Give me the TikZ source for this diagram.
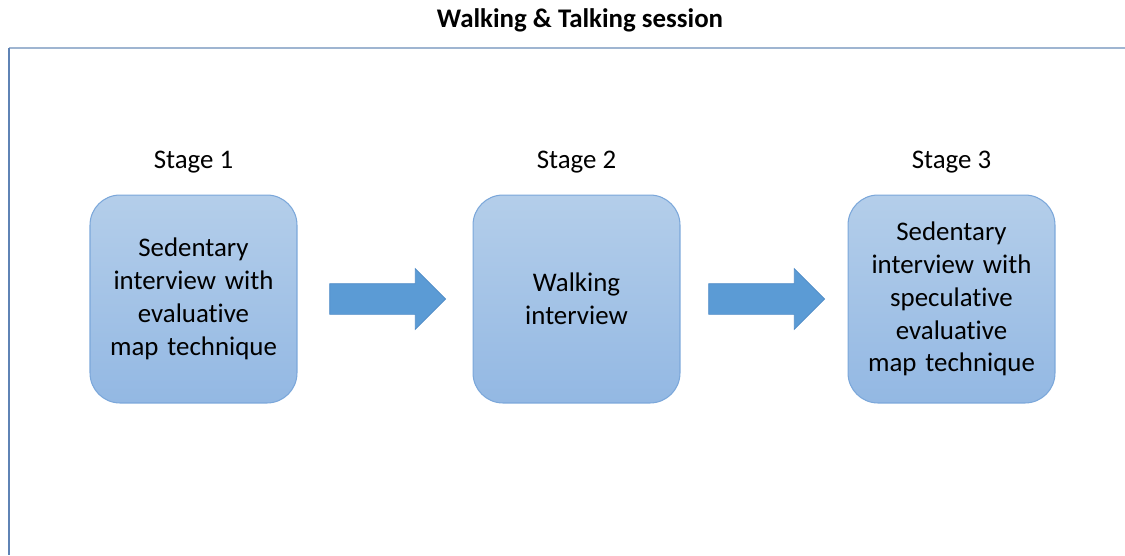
\documentclass[tikz,border=0pt]{standalone}
\usepackage{fontspec}
\setmainfont{Carlito}[Ligatures=NoCommon]
\usetikzlibrary{positioning,shapes.arrows,calc}
\definecolor{boxtop}{HTML}{B4CEEA}
\definecolor{boxbot}{HTML}{93B8E3}
\definecolor{boxline}{HTML}{7BA7DA}
\definecolor{arrfill}{HTML}{5B9BD5}
\definecolor{arrline}{HTML}{4F8BC6}
\definecolor{frametop}{HTML}{9FB5D1}
\definecolor{frameleft}{HTML}{5F83B5}
\tikzset{
  stagebox/.style={draw=boxline, line width=0.6pt, rounded corners=0.6cm, top color=boxtop, bottom color=boxbot,
    minimum width=4.14cm, minimum height=4.16cm, align=center, text width=3.6cm,
    font=\fontsize{15.3}{18.7}\selectfont},
  stagename/.style={inner sep=0pt, font=\fontsize{15.3}{18.7}\selectfont},
  blockarrow/.style={single arrow, draw=arrline, fill=arrfill, line width=0.4pt, inner sep=0pt,
    text height=0.6cm, text depth=0pt, minimum height=2.32cm, single arrow head extend=0.3cm, xshift=-0.1cm}
}
\begin{document}
\begin{tikzpicture}[x=0.02cm,y=-0.02cm]
    \useasboundingbox (0,0) rectangle (1125,555);
    \node[font=\fontsize{15.3}{18}\selectfont\bfseries] (title) at (580,20) {Walking \& Talking session};
    \draw[frametop, line width=0.9pt] (9,48) -- (1125,48);
    \draw[frameleft, line width=0.9pt] (9,48) -- (9,555);
    % the three stages
    \node[stagebox] (s1) at (193.5,299) {Sedentary\\interview with\\evaluative\\map technique};
    \node[stagebox] (s2) at (576.5,299) {Walking\\interview};
    \node[stagebox] (s3) at (951.5,299) {Sedentary\\interview with\\speculative\\evaluative\\map technique};
    \node[stagename, above=0.42cm of s1] (l1) {Stage 1};
    \node[stagename, above=0.42cm of s2] (l2) {Stage 2};
    \node[stagename, above=0.42cm of s3] (l3) {Stage 3};
    % arrows between stages
    \node[blockarrow] (a12) at ($(s1.east)!0.5!(s2.west)$) {};
    \node[blockarrow] (a23) at ($(s2.east)!0.5!(s3.west)$) {};
\end{tikzpicture}
\end{document}
